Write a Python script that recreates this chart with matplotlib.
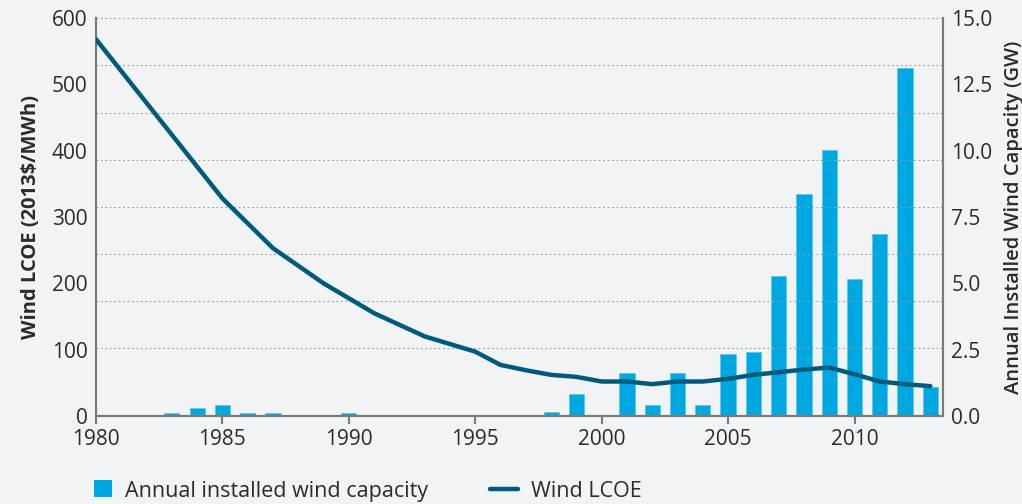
import numpy as np
import matplotlib
matplotlib.use('Agg')
import matplotlib.pyplot as plt
from matplotlib.patches import Rectangle
from matplotlib.legend_handler import HandlerPatch

plt.rcParams['font.family'] = ['Open Sans', 'DejaVu Sans']

# ------------------------------------------------------------------------
# data
years = np.arange(1980, 2014)
capacity_gw = [0.0, 0.0, 0.03, 0.12, 0.31, 0.40, 0.13, 0.13, 0.03, 0.03,
               0.13, 0.03, 0.03, 0.03, 0.03, 0.03, 0.03, 0.03, 0.14, 0.83,
               0.03, 1.63, 0.40, 1.63, 0.40, 2.34, 2.42, 5.28, 8.37, 10.04,
               5.18, 6.86, 13.13, 1.10]

lcoe_years = [1980, 1985, 1987, 1989, 1991, 1993, 1995, 1996, 1997, 1998,
              1999, 2000, 2001, 2002, 2003, 2004, 2005, 2006, 2007, 2008,
              2009, 2010, 2011, 2012, 2013]
lcoe = [568, 328, 253, 200, 155, 120, 97, 77, 69, 62,
        59, 52, 52, 48, 52, 52, 56, 62, 66, 70,
        73, 63, 52, 48, 45]

xtick_years = [1980, 1985, 1990, 1995, 2000, 2005, 2010]
left_ticks = [0, 100, 200, 300, 400, 500, 600]
right_ticks = [0.0, 2.5, 5.0, 7.5, 10.0, 12.5, 15.0]
grid_levels = [600, 529, 457, 386, 315, 244, 173, 102]

bg = '#f1f3f5'
bar_col = '#00a8e1'
line_col = '#005a7d'
spine_col = '#7a7a7a'
txt_col = '#2b2b2b'


# square legend key for the bars, pushed to the right of its box
class SquareHandler(HandlerPatch):
    def create_artists(self, legend, orig, xd, yd, w, h, fs, trans):
        s = h * 1.05
        r = Rectangle((xd + w - s, yd - (s - h) / 2), s, s,
                      facecolor=orig.get_facecolor(), edgecolor='none', transform=trans)
        return [r]


# ------------------------------------------------------------------------
fig = plt.figure(figsize=(10.22, 5.04), dpi=100, facecolor=bg)
ax = fig.add_axes([0.0939, 0.1746, 0.8288, 0.7897])
ax2 = ax.twinx()
ax2.set_facecolor(bg)

# bars on the capacity axis
bars = ax2.bar(years, capacity_gw, width=0.6, color=bar_col, edgecolor='#5cc8ee',
               linewidth=0.6)
ax2.set_ylim(0, 15)
ax2.set_yticks(right_ticks)
ax2.set_yticklabels(['%.1f' % v for v in right_ticks])

# line on the LCOE axis, drawn above the bars
ax.set_zorder(ax2.get_zorder() + 1)
ax.patch.set_visible(False)
for g in grid_levels:
    ax.axhline(g, color='#9a9a9a', linestyle=(0, (1.5, 2.5)), linewidth=0.8, zorder=0)
line, = ax.plot(lcoe_years, lcoe, color=line_col, linewidth=3.2, solid_capstyle='round',
                solid_joinstyle='round', zorder=3)
ax.set_ylim(0, 600)
ax.set_yticks(left_ticks)
ax.set_xlim(1980, 2013.5)
ax.set_xticks(xtick_years)

for a in (ax, ax2):
    a.spines['top'].set_visible(False)
    for s in ('left', 'right', 'bottom'):
        a.spines[s].set_color(spine_col)
        a.spines[s].set_linewidth(1.5)
    a.tick_params(axis='y', length=0, labelsize=15, labelcolor=txt_col, pad=6)
ax.tick_params(axis='x', length=6, width=1.5, color=spine_col, labelsize=15,
               labelcolor=txt_col, pad=3)

ax.set_ylabel('Wind LCOE (2013$/MWh)', fontsize=14.5, fontweight='bold',
              color=txt_col, labelpad=8)
ax2.set_ylabel('Annual Installed Wind Capacity (GW)', fontsize=14.5,
               fontweight='semibold', color=txt_col, labelpad=8)

# legend underneath
fig.legend([bars.patches[0], line], ['Annual installed wind capacity', 'Wind LCOE'],
           loc='lower left', bbox_to_anchor=(0.063, -0.035),
           ncol=2, frameon=False, fontsize=15.5, labelcolor=txt_col,
           handlelength=1.3, handleheight=0.8, columnspacing=2.9, handletextpad=0.6,
           handler_map={Rectangle: SquareHandler()})

fig.savefig('out.png', dpi=100, facecolor=bg)
